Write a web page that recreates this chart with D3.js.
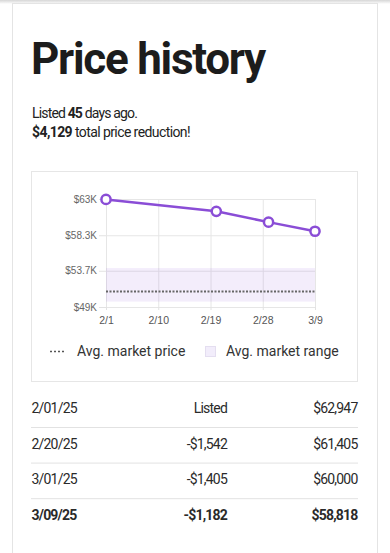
<!DOCTYPE html>
<html><head><meta charset="utf-8">
<script src="https://cdn.jsdelivr.net/npm/d3@7"></script>
<style>
html,body{margin:0;padding:0;background:#fff;}
svg{display:block;}
</style></head><body>
<svg id="c" width="390" height="553"></svg>
<script>
// ---------- DATA ----------
const listDates = ["2025-02-01","2025-02-20","2025-03-01","2025-03-09"];
const prices = [62947, 61405, 60000, 58818];
const priceChanges = [null, -1542, -1405, -1182];
const tableDates = ["2/01/25","2/20/25","3/01/25","3/09/25"];
const xTickDates = ["2025-02-01","2025-02-10","2025-02-19","2025-02-28","2025-03-09"];
const xTickLabels = ["2/1","2/10","2/19","2/28","3/9"];
const yTickValues = [49000, 53700, 58300, 63000];
const yTickLabels = ["$49K","$53.7K","$58.3K","$63K"];
const marketAvg = [51000];
const marketRange = [49700, 54050];
const daysListed = [45];
const totalReduction = [4129];
const legendLabels = ["Avg. market price","Avg. market range"];

// ---------- LAYOUT ----------
const PURPLE = "#8a4dd6";
const plot = {left:106, right:315, top:199, bottom:307};
const svg = d3.select("#c");
const parse = d3.utcParse("%Y-%m-%d");
const money = d3.format("$,");

function fit(sel, target){
  const node = sel.node();
  const n = sel.text().length;
  const w = node.getComputedTextLength();
  sel.attr("letter-spacing", ((target - w) / n).toFixed(3));
  return sel;
}

// top shadow + card
const defs = svg.append("defs");
const gr = defs.append("linearGradient").attr("id","sh").attr("x1",0).attr("x2",0).attr("y1",0).attr("y2",1);
gr.append("stop").attr("offset",0).attr("stop-color","#d6d6d6");
gr.append("stop").attr("offset",1).attr("stop-color","#ffffff");
svg.append("rect").attr("x",0).attr("y",0).attr("width",390).attr("height",4).attr("fill","url(#sh)");
svg.append("rect").attr("x",12.5).attr("y",3.5).attr("width",365).attr("height",570)
  .attr("fill","#fff").attr("stroke","#e4e4e4");

// title
fit(svg.append("text").attr("x",31).attr("y",74)
  .attr("font-family","Roboto").attr("font-weight",700).attr("font-size",44)
  .attr("fill","#1c1c1c").text("Price history"), 234);

// sub text
const p1 = svg.append("text").attr("x",32).attr("y",118).attr("font-family","Roboto")
  .attr("font-size",14).attr("fill","#222");
p1.append("tspan").text("Listed ");
p1.append("tspan").attr("font-weight",700).text(daysListed[0]);
p1.append("tspan").text(" days ago.");
fit(p1, 105);
const p2 = svg.append("text").attr("x",32).attr("y",137).attr("font-family","Roboto")
  .attr("font-size",14).attr("fill","#222");
p2.append("tspan").attr("font-weight",700).text(money(totalReduction[0]));
p2.append("tspan").text(" total price reduction!");
fit(p2, 158);

// chart box
svg.append("rect").attr("x",31.5).attr("y",171.5).attr("width",326).attr("height",210)
  .attr("fill","#fff").attr("stroke","#e6e6e6");

// scales
const xTicks = xTickDates.map(parse);
const x = d3.scaleUtc().domain(d3.extent(xTicks)).range([plot.left, plot.right]);
const y = d3.scaleLinear().domain(d3.extent(yTickValues)).range([plot.bottom, plot.top]);

// grid
const gx = svg.append("g").attr("transform",`translate(0,${plot.bottom})`)
  .call(d3.axisBottom(x).tickValues(xTicks).tickSize(-(plot.bottom-plot.top)).tickFormat(""));
const gy = svg.append("g").attr("transform",`translate(${plot.left},0)`)
  .call(d3.axisLeft(y).tickValues(yTickValues).tickSize(-(plot.right-plot.left)).tickFormat(""));
[gx,gy].forEach(g=>{g.select(".domain").remove(); g.selectAll("line").attr("stroke","#e6e6e6");});

// y labels
const ay = svg.append("g").attr("transform",`translate(${plot.left},0)`)
  .call(d3.axisLeft(y).tickValues(yTickValues).tickSize(7).tickPadding(2)
    .tickFormat((d,i)=>yTickLabels[i]));
ay.select(".domain").remove();
ay.selectAll("line").attr("stroke","#e2e2e2");
ay.selectAll("text").attr("font-family","'Liberation Sans', Arial").attr("font-size",10).attr("fill","#666");

// x labels
const ax = svg.append("g").attr("transform",`translate(0,${plot.bottom})`)
  .call(d3.axisBottom(x).tickValues(xTicks).tickSize(3).tickPadding(7)
    .tickFormat((d,i)=>xTickLabels[i]));
ax.select(".domain").remove();
ax.selectAll("line").attr("stroke","#e2e2e2");
ax.selectAll("text").attr("font-family","'Liberation Sans', Arial").attr("font-size",10.5).attr("fill","#555");

// market range band
const [x0,x1] = x.range();
svg.append("rect").attr("x",x0).attr("width",x1-x0)
  .attr("y",y(marketRange[1])).attr("height",y(marketRange[0])-y(marketRange[1]))
  .attr("fill",PURPLE).attr("fill-opacity",0.1);
// avg market line
svg.selectAll(".avg").data(marketAvg).join("line")
  .attr("x1",x0).attr("x2",x1).attr("y1",d=>y(d)).attr("y2",d=>y(d))
  .attr("stroke","#666").attr("stroke-width",2).attr("stroke-dasharray","2,1.5");

// price line
const pts = listDates.map((d,i)=>({date:parse(d), price:prices[i]}));
svg.append("path").datum(pts)
  .attr("d", d3.line().x(d=>x(d.date)).y(d=>y(d.price)))
  .attr("fill","none").attr("stroke",PURPLE).attr("stroke-width",2.5);
svg.selectAll(".pt").data(pts).join("circle")
  .attr("cx",d=>x(d.date)).attr("cy",d=>y(d.price)).attr("r",4.6)
  .attr("fill","#fff").attr("stroke",PURPLE).attr("stroke-width",2.5);

// legend
svg.append("line").attr("x1",50).attr("x2",66).attr("y1",351.5).attr("y2",351.5)
  .attr("stroke","#555").attr("stroke-width",1.5).attr("stroke-dasharray","2,2");
svg.append("text").attr("x",77).attr("y",356).attr("font-family","Roboto").attr("font-size",14)
  .attr("fill","#333").text(legendLabels[0]);
svg.append("rect").attr("x",205.5).attr("y",346.5).attr("width",10).attr("height",10)
  .attr("fill","#f2edfb").attr("stroke","#e4def0");
svg.append("text").attr("x",226).attr("y",356).attr("font-family","Roboto").attr("font-size",14)
  .attr("fill","#333").text(legendLabels[1]);

// table
const rowTop = 391, rowH = 35.6;
const rows = svg.append("g").selectAll("g").data(tableDates).join("g")
  .attr("transform",(d,i)=>`translate(0,${rowTop + i*rowH})`);
const last = tableDates.length - 1;
const fmtChange = v => v == null ? "Listed" : "-" + money(Math.abs(v));
const tStyle = (s,i) => s.attr("font-family","Roboto").attr("font-size",14)
  .attr("letter-spacing",-0.8).attr("fill","#2a2a2a").attr("font-weight", i===last?700:400);
rows.each(function(d,i){
  const g = d3.select(this);
  tStyle(g.append("text").attr("x",31.5).attr("y",22).text(d), i);
  tStyle(g.append("text").attr("x",227).attr("y",22).attr("text-anchor","end").text(fmtChange(priceChanges[i])), i);
  tStyle(g.append("text").attr("x",357.5).attr("y",22).attr("text-anchor","end").text(money(prices[i])), i);
  if(i<last) g.append("line").attr("x1",31).attr("x2",358).attr("y1",36.5).attr("y2",36.5)
    .attr("stroke","#e2e2e2");
});
</script>
</body></html>
